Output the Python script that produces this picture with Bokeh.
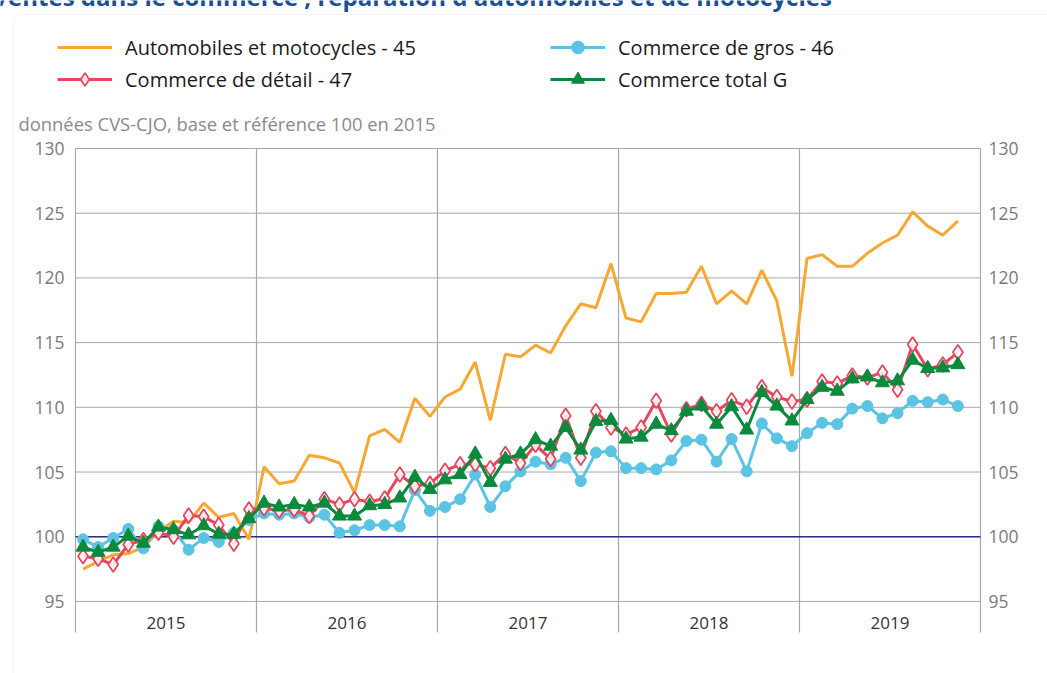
import numpy as np
from bokeh.plotting import figure
from bokeh.models import Range1d, Label, Legend, LegendItem, BoxAnnotation
from bokeh.embed import file_html
from bokeh.resources import INLINE
from bokeh.core.properties import value

# ---------------- data ----------------
years = [2015, 2016, 2017, 2018, 2019]
y_ticks = [95, 100, 105, 110, 115, 120, 125, 130]

auto_45 = [97.5, 98.1, 98.6, 98.7, 99.2, 100.4, 101.2, 101.1, 102.6, 101.5, 101.8, 99.8,
           105.4, 104.1, 104.3, 106.3, 106.1, 105.7, 103.4, 107.8, 108.3, 107.3, 110.7, 109.3,
           110.8, 111.4, 113.5, 109.0, 114.1, 113.9, 114.8, 114.2, 116.3, 118.0, 117.7, 121.1,
           116.9, 116.6, 118.8, 118.8, 118.9, 120.9, 118.0, 119.0, 118.0, 120.6, 118.2, 112.4,
           121.5, 121.8, 120.9, 120.9, 121.9, 122.7, 123.3, 125.1, 124.0, 123.3, 124.4]

gros_46 = [99.8, 99.2, 99.9, 100.6, 99.1, 100.8, 100.5, 99.0, 99.9, 99.6, 100.3, 101.3,
           101.8, 101.7, 101.8, 101.5, 101.7, 100.3, 100.5, 100.9, 100.9, 100.8, 103.6, 102.0,
           102.3, 102.9, 104.8, 102.3, 103.9, 105.05, 105.8, 105.6, 106.1, 104.3, 106.5, 106.6,
           105.3, 105.3, 105.2, 105.9, 107.4, 107.5, 105.8, 107.55, 105.05, 108.75, 107.6, 107.0,
           108.0, 108.8, 108.7, 109.9, 110.1, 109.15, 109.55, 110.5, 110.4, 110.6, 110.1]

detail_47 = [98.5, 98.3, 97.85, 99.4, 99.75, 100.3, 100.0, 101.65, 101.55, 100.9, 99.45, 102.1,
             102.2, 102.0, 102.1, 101.6, 102.9, 102.5, 102.9, 102.7, 102.95, 104.8, 103.9, 104.1,
             105.1, 105.6, 105.6, 105.3, 106.4, 105.7, 107.1, 106.0, 109.35, 106.1, 109.7, 108.45,
             107.9, 108.45, 110.5, 107.9, 109.85, 110.25, 109.7, 110.55, 110.05, 111.55, 110.8, 110.45,
             110.6, 112.0, 111.85, 112.45, 112.3, 112.7, 111.35, 114.85, 112.95, 113.3, 114.25]

total_G = [99.2, 98.8, 99.2, 100.05, 99.5, 100.75, 100.55, 100.15, 100.85, 100.2, 100.2, 101.4,
           102.6, 102.3, 102.5, 102.3, 102.6, 101.6, 101.6, 102.4, 102.5, 103.0, 104.6, 103.65,
           104.4, 104.8, 106.4, 104.2, 106.0, 106.4, 107.5, 107.0, 108.45, 106.7, 108.9, 109.0,
           107.55, 107.7, 108.7, 108.2, 109.7, 110.1, 108.7, 110.05, 108.25, 111.15, 110.1, 108.95,
           110.6, 111.55, 111.25, 112.2, 112.35, 111.9, 112.05, 113.65, 113.0, 113.05, 113.3]

series_labels = ["Automobiles et motocycles - 45", "Commerce de gros - 46",
                 "Commerce de détail - 47", "Commerce total G"]
title_text = "Ventes dans le commerce ; réparation d'automobiles et de motocycles"
subtitle_text = "données CVS-CJO, base et référence 100 en 2015"

# ---------------- geometry (canvas pixels) ----------------
W, H = 1047, 673
PX_L, PX_R = 75, 980        # plot area left / right
PX_T, PX_B = 148, 632       # plot area top (=130) / bottom of year band
n_months = 12 * len(years)
y_top, y_bot = y_ticks[-1], 92.6

kx = (PX_R - PX_L) / n_months
ky = (PX_B - PX_T) / (y_top - y_bot)
x_range = Range1d(-PX_L / kx, n_months + (W - PX_R) / kx)
y_range = Range1d(y_bot - (H - PX_B) / ky, y_top + PX_T / ky)

# month index -> x position (middle of month)
x = np.arange(len(total_G)) + 0.5
year_mid = [(yy - years[0]) * 12 + 6 for yy in years]
year_edges = [(yy - years[0]) * 12 for yy in years] + [n_months]

C_AUTO = "#f7a833"
C_GROS = "#5bc3e3"
C_DET = "#e8465f"
C_TOT = "#0a8a3c"
C_GRID = "#a8a8a8"
FONT = "Open Sans"

p = figure(width=W, height=H, output_backend="svg", toolbar_location=None,
           x_range=x_range, y_range=y_range,
           min_border_left=0, min_border_right=0, min_border_top=0, min_border_bottom=0,
           outline_line_color=None, background_fill_color="white", border_fill_color="white",
           x_axis_location=None, y_axis_location=None)
p.grid.visible = False

# panel border
p.add_layout(BoxAnnotation(left=13, right=W + 50, top=14, bottom=H + 50,
                           left_units="canvas", right_units="canvas",
                           top_units="canvas", bottom_units="canvas",
                           fill_alpha=0, line_color="#dadada", line_width=1,
                           border_radius=6, level="underlay"))

# horizontal grid lines
p.segment(x0=[0] * len(y_ticks), x1=[n_months] * len(y_ticks), y0=y_ticks, y1=y_ticks,
          line_color=C_GRID, line_width=1)
# vertical year separators (incl. left/right borders)
p.segment(x0=year_edges, x1=year_edges, y0=[y_bot] * len(year_edges),
          y1=[y_top] * len(year_edges), line_color=C_GRID, line_width=1.2)

# tick labels left / right
p.text(x=[0] * len(y_ticks), y=y_ticks, text=[str(t) for t in y_ticks], x_offset=-11,
       text_align="right", text_baseline="middle", text_font=value(FONT),
       text_font_size="17.5px", text_color="#7a7a7a")
p.text(x=[n_months] * len(y_ticks), y=y_ticks, text=[str(t) for t in y_ticks], x_offset=8,
       text_align="left", text_baseline="middle", text_font=value(FONT),
       text_font_size="17.5px", text_color="#7a7a7a")

# year labels
p.text(x=year_mid, y=[93.3] * len(years), text=[str(yy) for yy in years],
       text_align="center", text_baseline="middle", text_font=value(FONT),
       text_font_size="17px", text_color="#333333")

# reference line at 100
p.segment(x0=[0], x1=[n_months], y0=[100], y1=[100], line_color="#2e2f86", line_width=1.5)

# series
r_auto = p.line(x, auto_45, line_color=C_AUTO, line_width=3)
r_gros_l = p.line(x, gros_46, line_color=C_GROS, line_width=3)
r_gros_m = p.scatter(x, gros_46, marker="circle", size=11, fill_color=C_GROS,
                     line_color=C_GROS)
r_det_l = p.line(x, detail_47, line_color=C_DET, line_width=3)
r_det_m = p.scatter(x, detail_47, marker="diamond", size=15, fill_color="white",
                    fill_alpha=0.85, line_color=C_DET, line_width=1.8)
r_tot_l = p.line(x, total_G, line_color=C_TOT, line_width=3)
r_tot_m = p.scatter(x, total_G, marker="triangle", size=14, fill_color=C_TOT,
                    line_color=C_TOT)

# legends (two columns)
leg_kw = dict(glyph_width=55, glyph_height=32, label_standoff=13, spacing=0, padding=0,
              margin=0, background_fill_alpha=0, border_line_color=None,
              label_text_font=FONT, label_text_font_size="20px",
              label_text_color="#1a1a1a", label_height=32, orientation="vertical")
leg_bottom = H - (47 - 16 + 64)
leg1 = Legend(items=[LegendItem(label=series_labels[0], renderers=[r_auto]),
                     LegendItem(label=series_labels[2], renderers=[r_det_l, r_det_m])],
              location=(57, leg_bottom), **leg_kw)
leg2 = Legend(items=[LegendItem(label=series_labels[1], renderers=[r_gros_l, r_gros_m]),
                     LegendItem(label=series_labels[3], renderers=[r_tot_l, r_tot_m])],
              location=(550, leg_bottom), **leg_kw)
p.add_layout(leg1)
p.add_layout(leg2)

# subtitle and (cut) title
p.add_layout(Label(x=18, y=H - 123, x_units="screen", y_units="screen", text=subtitle_text,
                   text_font=FONT, text_font_size="18.4px", text_color="#8a8a8a",
                   text_baseline="middle"))
p.add_layout(Label(x=-8, y=H + 4, x_units="screen", y_units="screen", text=title_text,
                   text_font=FONT, text_font_size="24px", text_font_style="bold",
                   text_color="#1a4f96", text_baseline="alphabetic"))

open("out.html", "w").write(file_html(p, INLINE))
